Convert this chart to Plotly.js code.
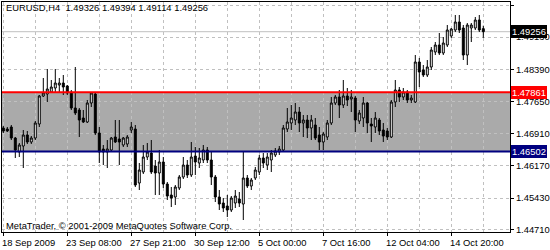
<!DOCTYPE html>
<html>
<head>
<meta charset="utf-8">
<script src="https://cdn.plot.ly/plotly-3.0.1.min.js"></script>
<style>html,body{margin:0;padding:0;background:#fff;}#chart{width:550px;height:250px;}</style>
</head>
<body>
<div id="chart"></div>
<script>
// EURUSD H4 bars (oldest -> newest)
const openP = [1.47041,1.47018,1.47064,1.46811,1.46489,1.46627,1.46880,1.46719,1.46811,1.47133,
1.47777,1.47823,1.47869,1.47961,1.48030,1.48076,1.48007,1.47869,1.47501,1.47455,
1.47271,1.47179,1.47616,1.47823,1.46926,1.46558,1.46489,1.46535,1.46834,1.46788,
1.46650,1.46673,1.46995,1.47018,1.45776,1.46029,1.46374,1.46466,1.46167,1.46006,
1.46259,1.45753,1.45500,1.45454,1.45661,1.45914,1.46190,1.45960,1.46397,1.46236,
1.46305,1.46535,1.46305,1.45914,1.45454,1.45316,1.45247,1.45155,1.45316,1.45408,
1.45293,1.45891,1.45707,1.45891,1.46029,1.46351,1.46190,1.46305,1.46420,1.46489,
1.46535,1.47018,1.47156,1.47225,1.47409,1.47156,1.47225,1.47041,1.47110,1.46880,
1.46719,1.46834,1.47156,1.47616,1.47754,1.47570,1.47777,1.47708,1.47731,1.47202,
1.47271,1.47616,1.47133,1.47064,1.47225,1.46995,1.46972,1.46834,1.47639,1.47915,
1.47754,1.47869,1.47685,1.47639,1.48559,1.48375,1.48260,1.48444,1.48789,1.48950,
1.48766,1.48950,1.49157,1.49295,1.49479,1.49341,1.48720,1.49341,1.49341,1.49525,
1.49326];
const highP = [1.47087,1.47064,1.47110,1.46834,1.46696,1.46995,1.46972,1.46857,1.47202,1.47800,
1.48191,1.48398,1.48145,1.48398,1.48191,1.48260,1.48030,1.47915,1.48444,1.47501,
1.47455,1.47685,1.47869,1.47869,1.47064,1.46650,1.46765,1.46834,1.47225,1.47225,
1.46834,1.46880,1.47179,1.47110,1.46236,1.46650,1.46696,1.46765,1.46305,1.46535,
1.46374,1.45799,1.45684,1.45730,1.45960,1.46374,1.46305,1.46719,1.46604,1.46581,
1.46650,1.46604,1.46489,1.45960,1.45615,1.45431,1.45500,1.45477,1.45615,1.45569,
1.46512,1.45960,1.45891,1.46144,1.46420,1.46466,1.46466,1.46535,1.46581,1.46627,
1.47110,1.47501,1.47570,1.47616,1.47524,1.47340,1.47340,1.47340,1.47271,1.47064,
1.46949,1.47225,1.47754,1.47800,1.47915,1.48145,1.47961,1.47915,1.47777,1.47455,
1.47754,1.47639,1.47271,1.47409,1.47271,1.47156,1.47041,1.47685,1.48145,1.47984,
1.47961,1.47915,1.47800,1.48720,1.48651,1.48490,1.48605,1.48904,1.49019,1.49226,
1.49134,1.49410,1.49341,1.49640,1.49640,1.49410,1.49456,1.49456,1.49594,1.49640,
1.49394];
const lowP = [1.46926,1.46949,1.46765,1.46351,1.46374,1.46121,1.46673,1.46673,1.46765,1.47064,
1.47754,1.47639,1.47846,1.47846,1.47846,1.47800,1.47800,1.47455,1.47340,1.46834,
1.47156,1.47156,1.47524,1.46880,1.46236,1.46190,1.46121,1.46489,1.46696,1.46190,
1.46604,1.46604,1.46926,1.45684,1.45615,1.45983,1.46305,1.45983,1.45500,1.45500,
1.45661,1.45385,1.45224,1.45270,1.45615,1.45868,1.45891,1.45914,1.45960,1.46121,
1.46236,1.46236,1.45730,1.45339,1.45155,1.45109,1.44994,1.45109,1.45201,1.45224,
1.44925,1.45661,1.45615,1.45845,1.45960,1.46121,1.46075,1.46029,1.46374,1.46420,
1.46489,1.46949,1.46995,1.47110,1.46949,1.46834,1.46811,1.46765,1.46765,1.46535,
1.46535,1.46765,1.47110,1.47570,1.47271,1.47501,1.47547,1.47409,1.46949,1.47133,
1.47064,1.46926,1.46719,1.46926,1.46880,1.46719,1.46765,1.46811,1.47524,1.47639,
1.47685,1.47616,1.47616,1.47616,1.47984,1.48214,1.48214,1.48375,1.48720,1.48720,
1.48720,1.48904,1.49111,1.49249,1.49226,1.48605,1.48490,1.49019,1.49295,1.49249,
1.49114];
const closeP = [1.46972,1.46972,1.46811,1.46535,1.46650,1.46880,1.46719,1.46811,1.47156,1.47777,
1.47846,1.47938,1.47984,1.48076,1.48076,1.47984,1.47846,1.47501,1.47386,1.47225,
1.47179,1.47616,1.47846,1.46926,1.46489,1.46489,1.46558,1.46811,1.46719,1.46719,
1.46811,1.46834,1.47064,1.45730,1.46075,1.46374,1.46489,1.46029,1.46006,1.46259,
1.45753,1.45477,1.45431,1.45684,1.45914,1.46190,1.45960,1.46374,1.46259,1.46351,
1.46535,1.46305,1.45914,1.45454,1.45293,1.45201,1.45155,1.45431,1.45477,1.45316,
1.45891,1.45707,1.45845,1.46075,1.46351,1.46236,1.46374,1.46466,1.46512,1.46558,
1.47041,1.47179,1.47271,1.47409,1.47156,1.47225,1.47041,1.47225,1.46811,1.46719,
1.46903,1.47156,1.47616,1.47754,1.47570,1.47777,1.47685,1.47754,1.47225,1.47386,
1.47616,1.47156,1.47087,1.47271,1.46972,1.46857,1.46834,1.47639,1.47915,1.47754,
1.47869,1.47685,1.47731,1.48559,1.48329,1.48260,1.48444,1.48835,1.48950,1.48766,
1.48996,1.49295,1.49318,1.49479,1.49295,1.48720,1.49410,1.49410,1.49525,1.49295,
1.49256];

const symbolTitle = "EURUSD,H4  1.49326 1.49394 1.49114 1.49256";
const copyright = "MetaTrader, \u00a9 2001-2009 MetaQuotes Software Corp.";
const xTickLabels = ["18 Sep 2009","23 Sep 08:00","27 Sep 21:00","30 Sep 12:00","5 Oct 00:00","7 Oct 16:00","12 Oct 04:00","14 Oct 20:00"];
const xTickBars = [0,16,32,48,64,80,96,112];
const yTickVals = [1.44710,1.45430,1.46170,1.46910,1.47650,1.48390,1.49130,1.49870];
const resistance = 1.47861;
const support = 1.46502;
const lastPrice = 1.49256;

const FONT = "Liberation Sans, Arial, sans-serif";
const FS = 9.4;
const GRID = "#c0c0c0";
const x = openP.map((_, i) => i);
const gridBars = [];
for (let b = 0; b <= 120; b += 8) gridBars.push(b);

const trace = {
  type: "candlestick",
  x: x, open: openP, high: highP, low: lowP, close: closeP,
  increasing: {line: {color: "#000000", width: 1}, fillcolor: "#ffffff"},
  decreasing: {line: {color: "#000000", width: 1}, fillcolor: "#000000"},
  whiskerwidth: 0,
  hoverinfo: "skip",
  showlegend: false
};

const annotations = [];
xTickLabels.forEach((t, k) => annotations.push({
  x: xTickBars[k], xref: "x", y: 0, yref: "paper", yanchor: "middle", xanchor: "left",
  xshift: -3, yshift: -10, text: t, showarrow: false,
  font: {family: FONT, size: FS, color: "#000"}
}));
annotations.push({x: 0, xref: "paper", y: 1, yref: "paper", xanchor: "left", yanchor: "middle",
  xshift: 2, yshift: -5.5, text: symbolTitle, showarrow: false, font: {family: FONT, size: FS, color: "#000"}});
annotations.push({x: 0, xref: "paper", y: 0, yref: "paper", xanchor: "left", yanchor: "middle",
  xshift: 2, yshift: 7, text: copyright, showarrow: false, font: {family: FONT, size: FS, color: "#000"}});
[[lastPrice, "#000000"], [resistance, "#ff0000"], [support, "#000080"]].forEach(([v, c]) => annotations.push({
  x: 1, xref: "paper", y: v, yref: "y", xanchor: "left", yanchor: "middle", xshift: 1,
  text: v.toFixed(5), showarrow: false, bgcolor: c, borderpad: 1, borderwidth: 0,
  font: {family: FONT, size: FS, color: "#ffffff"}
}));

const layout = {
  width: 550, height: 250,
  margin: {l: 2, r: 40, t: 2, b: 18, pad: 0},
  paper_bgcolor: "#ffffff", plot_bgcolor: "#ffffff",
  showlegend: false,
  xaxis: {
    range: [-0.325, 126.675], type: "linear",
    tickmode: "array", tickvals: xTickBars, showticklabels: false,
    ticks: "outside", ticklen: 3, tickcolor: "#000", tickwidth: 1,
    showgrid: true, gridcolor: GRID, griddash: "3px,3px", gridwidth: 1,
    minor: {tickmode: "array", tickvals: gridBars, showgrid: true, gridcolor: GRID, griddash: "3px,3px", ticks: ""},
    showline: true, linecolor: "#000", linewidth: 1, mirror: true, zeroline: false,
    rangeslider: {visible: false}, fixedrange: true
  },
  yaxis: {
    side: "right", range: [1.44649, 1.49939],
    tickmode: "array", tickvals: yTickVals, ticktext: yTickVals.map(v => v.toFixed(5)),
    ticks: "outside", ticklen: 3, tickcolor: "#000",
    tickfont: {family: FONT, size: FS, color: "#000"},
    showgrid: true, gridcolor: GRID, griddash: "3px,3px",
    showline: true, linecolor: "#000", linewidth: 1, mirror: true, zeroline: false, fixedrange: true
  },
  shapes: [
    {type: "rect", xref: "paper", x0: 0, x1: 1, yref: "y", y0: support, y1: resistance,
     fillcolor: "#aaaaaa", line: {width: 0}, layer: "below"},
    {type: "line", xref: "paper", x0: 0, x1: 1, yref: "y", y0: lastPrice, y1: lastPrice,
     line: {color: "#c0c0c0", width: 1}, layer: "below"},
    {type: "line", xref: "paper", x0: 0, x1: 1, yref: "y", y0: resistance, y1: resistance,
     line: {color: "#ff0000", width: 2}, layer: "above"},
    {type: "line", xref: "paper", x0: 0, x1: 1, yref: "y", y0: support, y1: support,
     line: {color: "#000080", width: 2}, layer: "above"}
  ],
  annotations: annotations
};

Plotly.newPlot("chart", [trace], layout, {staticPlot: true, displayModeBar: false});
</script>
</body>
</html>
